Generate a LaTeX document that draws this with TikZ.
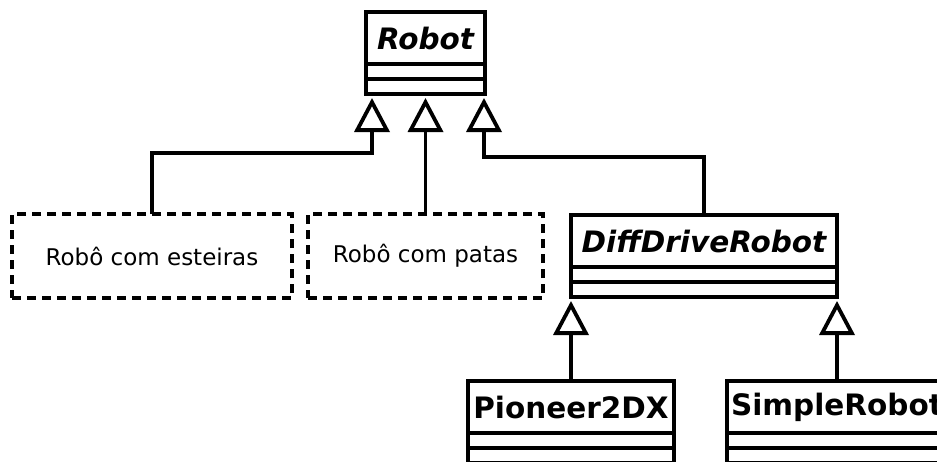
\documentclass[tikz,border=0pt]{standalone}
\usepackage{fontspec}
\setmainfont{DejaVu Sans}
\usetikzlibrary{arrows.meta}

\begin{document}
\begin{tikzpicture}[x=1pt, y=-1pt,
  lw/.style={line width=3.8pt},
  classname/.style={draw, lw, inner sep=0pt, outer sep=0pt, minimum height=52pt,
    font=\fontsize{29.5}{29.5}\selectfont\bfseries},
  abstractname/.style={classname, font=\fontsize{29.5}{29.5}\selectfont\bfseries\itshape},
  compartment/.style={draw, lw, inner sep=0pt, outer sep=0pt, minimum height=15pt},
  sketchbox/.style={draw, lw, dash pattern=on 9pt off 6pt, inner sep=0pt, outer sep=0pt,
    minimum height=84pt, font=\fontsize{23}{23}\selectfont},
  inherit/.style={lw, shorten >=4pt, -{Triangle[open, length=34pt, width=35pt]}}
]
\useasboundingbox (0,0) rectangle (937,461);
\clip (0,0) rectangle (937,461);

% Robot (abstract)
\node[abstractname, minimum width=119pt] (robot) at (425.5,38) {Robot};
\node[compartment, minimum width=119pt, anchor=north] (robotA) at (robot.south) {};
\node[compartment, minimum width=119pt, anchor=north] (robotB) at (robotA.south) {};

% Sketched, not modelled variants
\node[sketchbox, minimum width=280pt] (esteiras) at (152,256) {Robô com esteiras};
\node[sketchbox, minimum width=235pt] (patas) at (425.5,256) {Robô com patas};

% DiffDriveRobot (abstract)
\node[abstractname, minimum width=266pt] (ddr) at (704,241) {DiffDriveRobot};
\node[compartment, minimum width=266pt, anchor=north] (ddrA) at (ddr.south) {};
\node[compartment, minimum width=266pt, anchor=north] (ddrB) at (ddrA.south) {};

% Concrete robots
\node[classname, minimum width=206pt] (pioneer) at (571,407) {Pioneer2DX};
\node[compartment, minimum width=206pt, anchor=north] (pioneerA) at (pioneer.south) {};
\node[compartment, minimum width=206pt, anchor=north] (pioneerB) at (pioneerA.south) {};

\node[classname, minimum width=220pt] (simple) at (837,407) {SimpleRobot};
\node[compartment, minimum width=220pt, anchor=north] (simpleA) at (simple.south) {};
\node[compartment, minimum width=220pt, anchor=north] (simpleB) at (simpleA.south) {};

% Generalisations
\draw[inherit] (esteiras.north) -- ++(0,-61) -| (372,0 |- robotB.south);
\draw[inherit] (patas.north) -- (patas.north |- robotB.south);
\draw[inherit] (ddr.north) -- ++(0,-58) -| (484,0 |- robotB.south);
\draw[inherit] (pioneer.north) -- (pioneer.north |- ddrB.south);
\draw[inherit] (simple.north) -- (simple.north |- ddrB.south);
\end{tikzpicture}
\end{document}
